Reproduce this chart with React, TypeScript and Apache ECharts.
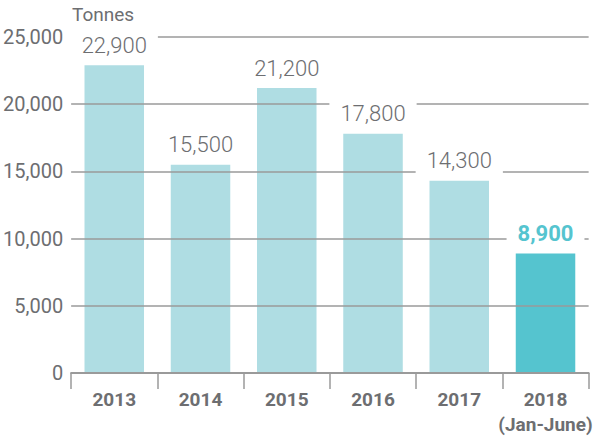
import React, { useEffect, useRef } from "react";
import * as echarts from "echarts";

const categories = ["2013", "2014", "2015", "2016", "2017", "2018\n(Jan-June)"];
const values = [22900, 15500, 21200, 17800, 14300, 8900];
const highlightIndex = 5;
const yTicks = { min: 0, max: 25000, interval: 5000 };
const unitLabel = "Tonnes";

const LIGHT = "#afdde3";
const DARK = "#55c4cf";
const GREY_TEXT = "#6d6e71";
const GRID = "#9a9a9a";

export default function App() {
  const ref = useRef<HTMLDivElement>(null);
  useEffect(() => {
    if (!ref.current) return;
    const chart = echarts.init(ref.current, undefined, { renderer: "svg" });
    const fmt = (v: number) => v.toLocaleString("en-US");
    chart.setOption({
      animation: false,
      grid: { left: 68, right: 1, top: 37, bottom: 63, containLabel: false },
      xAxis: {
        type: "category",
        data: categories,
        z: 5,
        axisLine: { show: true, lineStyle: { color: GRID, width: 2 } },
        axisTick: { show: true, interval: 0, length: 16, lineStyle: { color: GRID, width: 1.5 } },
        axisLabel: {
          interval: 0,
          color: GREY_TEXT,
          fontFamily: "Roboto",
          fontWeight: "bold",
          fontSize: 19,
          lineHeight: 25,
          margin: 14,
        },
      },
      yAxis: {
        type: "value",
        min: yTicks.min,
        max: yTicks.max,
        interval: yTicks.interval,
        z: 3,
        axisLine: { show: false },
        axisTick: { show: false },
        splitLine: { show: true, lineStyle: { color: GRID, width: 1.5 } },
        axisLabel: {
          color: GREY_TEXT,
          fontFamily: "Roboto",
          fontSize: 20,
          margin: 8,
          formatter: (v: number) => fmt(v),
        },
      },
      series: [
        {
          type: "bar",
          z: 2,
          barWidth: "69%",
          data: values.map((v, i) => ({
            value: v,
            itemStyle: { color: i === highlightIndex ? DARK : LIGHT },
          })),
          label: { show: false },
        },
        {
          type: "bar",
          z: 4,
          barWidth: "69%",
          barGap: "-100%",
          silent: true,
          itemStyle: { color: "rgba(0,0,0,0)" },
          data: values.map((v, i) => ({
            value: v,
            label: {
              show: true,
              position: "top",
              distance: 7,
              formatter: () => fmt(v),
              fontFamily: "Roboto",
              fontSize: 22,
              lineHeight: 26,
              fontWeight: i === highlightIndex ? "bold" : 300,
              color: i === highlightIndex ? DARK : GREY_TEXT,
              backgroundColor: "#ffffff",
              padding: [3, 11, 0, 11],
            },
          })),
        },
      ],
      graphic: [
        {
          type: "text",
          left: 72,
          top: 5,
          style: {
            text: unitLabel,
            fill: GREY_TEXT,
            fontFamily: "Roboto",
            fontSize: 19,
          },
        },
      ],
    });
    return () => chart.dispose();
  }, []);
  return <div ref={ref} style={{ width: 595, height: 437, position: "absolute", left: 0, top: 0 }} />;
}
